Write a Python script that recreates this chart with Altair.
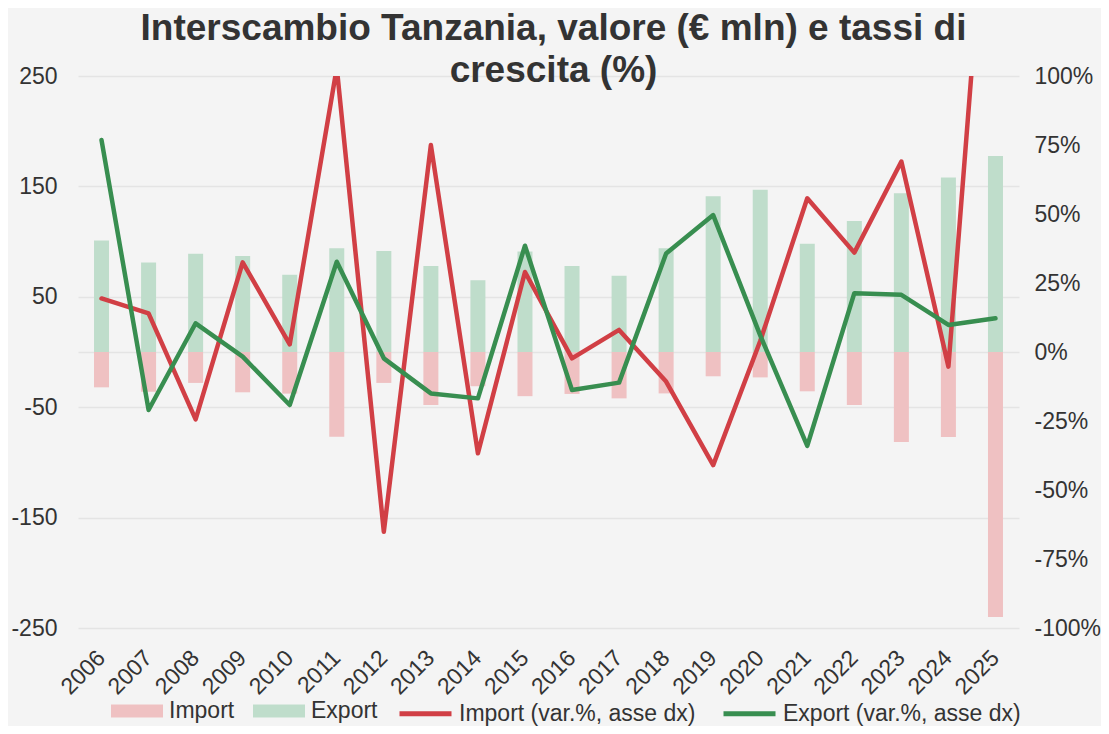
import altair as alt
import pandas as pd

years = ["2006", "2007", "2008", "2009", "2010", "2011", "2012", "2013", "2014", "2015",
         "2016", "2017", "2018", "2019", "2020", "2021", "2022", "2023", "2024", "2025"]

# values in € mln (import shown negative)
import_val = [-32, -36, -28, -36.5, -37.7, -76.7, -28, -48, -31, -40,
              -38, -42, -37.5, -22, -23, -35.6, -48, -81.5, -77, -240]
export_val = [101, 81, 89, 87, 70, 94, 91.5, 78, 65, 91,
              78, 69, 94, 141, 147, 98, 118.6, 143.7, 158, 177.5]

# growth rates in %
import_growth = [19.4, 14, -24.4, 32.5, 2.8, 103, -65.1, 75, -36.7, 29,
                 -2.3, 8, -10.7, -41, 4, 55.7, 36, 69, -5.3, 212]
export_growth = [76.8, -21, 10.4, -1.7, -19.2, 32.7, -2.3, -15, -16.8, 38.5,
                 -13.8, -11.1, 35.7, 49.6, 6, -34, 21.3, 20.7, 9.8, 12.2]

bar_series = ["Import", "Export"]
line_series = ["Import (var.%, asse dx)", "Export (var.%, asse dx)"]

bars = pd.DataFrame({
    "anno": years * 2,
    "serie": [bar_series[0]] * len(years) + [bar_series[1]] * len(years),
    "valore": import_val + export_val,
})
lines = pd.DataFrame({
    "anno": years * 2,
    "serie2": [line_series[0]] * len(years) + [line_series[1]] * len(years),
    "tasso": [v / 100 for v in import_growth + export_growth],
})

TXT = "#333333"
FS = 23

x_enc = alt.X(
    "anno:O", sort=years,
    scale=alt.Scale(paddingInner=0, paddingOuter=0),
    axis=alt.Axis(title=None, labelAngle=-45, labelAlign="right", labelBaseline="middle",
                  labelPadding=26, ticks=False, domain=False, labelFontSize=FS,
                  labelColor=TXT, grid=False),
)

bar = alt.Chart(bars).mark_bar(size=15).encode(
    x=x_enc,
    y=alt.Y("valore:Q",
            scale=alt.Scale(domain=[-250, 250], nice=False, zero=False),
            axis=alt.Axis(title=None, values=[-250, -150, -50, 0, 50, 150, 250],
                          labelExpr="datum.value == 0 ? '' : '' + datum.value",
                          grid=True, gridColor="#e4e4e4", gridWidth=1.5,
                          ticks=False, domain=False, labelPadding=21,
                          labelFontSize=FS, labelColor=TXT)),
    color=alt.Color("serie:N",
                    scale=alt.Scale(domain=bar_series, range=["#efc1c2", "#bfddcb"]),
                    legend=alt.Legend(title=None, orient="none", legendX=33, legendY=609,
                                      direction="horizontal",
                                      symbolType="M-1,-0.25H1V0.25H-1Z", symbolSize=2704,
                                      symbolStrokeWidth=0, labelLimit=500,
                                      labelFontSize=FS, labelColor=TXT, labelOffset=6,
                                      columnPadding=18)),
)

line = alt.Chart(lines).mark_line(strokeWidth=4.5, clip=True, strokeCap="round",
                                  strokeJoin="round").encode(
    x=x_enc,
    y=alt.Y("tasso:Q",
            scale=alt.Scale(domain=[-1, 1], nice=False),
            axis=alt.Axis(title=None, orient="right",
                          values=[-1, -0.75, -0.5, -0.25, 0, 0.25, 0.5, 0.75, 1],
                          labelExpr="'' + round(datum.value * 100) + '%'",
                          grid=False, ticks=False, domain=False,
                          labelPadding=15, labelFontSize=FS, labelColor=TXT)),
    color=alt.Color("serie2:N",
                    scale=alt.Scale(domain=line_series, range=["#d13f45", "#388e50"]),
                    legend=alt.Legend(title=None, orient="none", legendX=319, legendY=609,
                                      direction="horizontal", symbolType="stroke",
                                      symbolSize=2704, symbolStrokeWidth=5, labelLimit=500,
                                      labelFontSize=FS, labelColor=TXT, labelOffset=5,
                                      columnPadding=17)),
    detail="serie2:N",
)

chart = alt.layer(bar, line).resolve_scale(y="independent", color="independent").properties(
    width=941, height=552,
    title=alt.TitleParams(
        ["Interscambio Tanzania, valore (€ mln) e tassi di", "crescita (%)"],
        fontSize=37, fontWeight="bold", color=TXT, lineHeight=42,
        anchor="middle", frame="group", offset=-25, dx=5, font="Liberation Sans"),
    autosize=alt.AutoSizeParams(type="none"),
    padding={"left": 70, "top": 68, "right": 82, "bottom": 98},
    background="#f4f4f4",
).configure(
    font="Liberation Sans",
).configure_view(stroke=None)

chart.save("out.html", embed_options={"renderer": "svg", "actions": False})
